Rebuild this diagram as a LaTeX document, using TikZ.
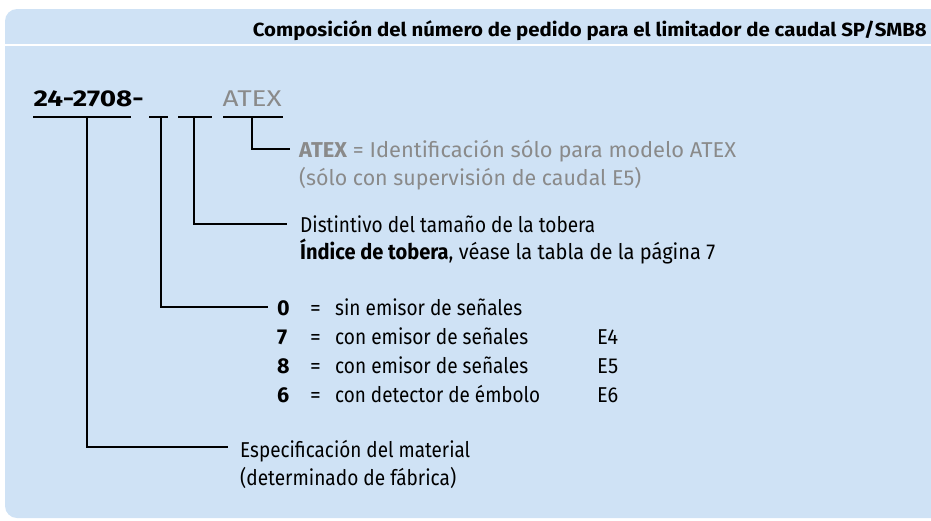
\documentclass[tikz,border=0pt]{standalone}
\usepackage{graphicx}
\usepackage{fontspec}
\setmainfont{Fira Sans}
\definecolor{panel}{RGB}{207,226,245}
\definecolor{atexgray}{RGB}{138,138,138}
\newsavebox\fitbox
\newcommand\fitw[2]{\sbox\fitbox{#2}\pgfmathsetmacro\fitr{#1/\the\wd\fitbox}\scalebox{\fitr}[1]{\usebox\fitbox}}
\begin{document}
\begin{tikzpicture}[x=1pt,y=-1pt,
  txt/.style={anchor=base west, inner sep=0pt, font=\fontsize{21.5}{24}\selectfont},
  grytxt/.style={txt, text=atexgray},
  keytxt/.style={txt, font=\fontsize{21.5}{24}\selectfont\bfseries},
  conn/.style={line width=1.9pt, black},
  uline/.style={line width=1.9pt, black}]
\useasboundingbox (0,0) rectangle (931,520);
% panel
\fill[panel, rounded corners=12pt] (5,9) rectangle (960,518);
\fill[white] (0,43.6) rectangle (960,46.4);
% title
\node[anchor=base east, inner sep=0pt, font=\fontsize{19}{21}\selectfont\bfseries] (title) at (927,36) {\fitw{674}{Composición del número de pedido para el limitador de caudal SP/SMB8}};
% order code
\node[anchor=base west, inner sep=0pt, font=\fontsize{22.8}{26}\selectfont\bfseries] (code) at (33.5,106.7) {\fitw{110}{24-2708-}};
\node[anchor=base west, inner sep=0pt, font=\fontsize{22.8}{26}\selectfont, text=atexgray] (atexcode) at (222.5,106.7) {\fitw{59}{ATEX}};
% underline segments
\coordinate (u1a) at (33,116.7);  \coordinate (u1b) at (131,116.7);
\coordinate (u2a) at (149,116.7); \coordinate (u2b) at (168,116.7);
\coordinate (u3a) at (178,116.7); \coordinate (u3b) at (212,116.7);
\coordinate (u4a) at (223,116.7); \coordinate (u4b) at (283,116.7);
\draw[uline] (u1a) -- (u1b);
\draw[uline] (u2a) -- (u2b);
\draw[uline] (u3a) -- (u3b);
\draw[uline] (u4a) -- (u4b);
% connector start points
\coordinate (v1) at (86.7,116.7);
\coordinate (v2) at (161,116.7);
\coordinate (v3) at (194,116.7);
\coordinate (v4) at (252,116.7);
% connector end points
\coordinate (e1) at (228,446.7);
\coordinate (e2) at (268,306.7);
\coordinate (e3) at (287,224);
\coordinate (e4) at (290,149.3);
\draw[conn] (v1) |- (e1);
\draw[conn] (v2) |- (e2);
\draw[conn] (v3) |- (e3);
\draw[conn] (v4) |- (e4);
% ATEX description
\node[grytxt] (atexA) at (299,157) {\fitw{437}{\textbf{ATEX} = Identificación sólo para modelo ATEX}};
\node[grytxt] (atexB) at (299,185) {\fitw{342}{(sólo con supervisión de caudal E5)}};
% nozzle
\node[txt] (nozA) at (300,232) {\fitw{295}{Distintivo del tamaño de la tobera}};
\node[txt] (nozB) at (300,259) {\fitw{415}{\textbf{Índice de tobera}, véase la tabla de la página 7}};
% list
\node[keytxt] (k0) at (277,315) {0};
\node[keytxt] (k7) at (277,344) {7};
\node[keytxt] (k8) at (277,373) {8};
\node[keytxt] (k6) at (277,402) {6};
\node[txt] (q0) at (310,315) {=};
\node[txt] (q7) at (310,344) {=};
\node[txt] (q8) at (310,373) {=};
\node[txt] (q6) at (310,402) {=};
\node[txt] (d0) at (335,315) {\fitw{187}{sin emisor de señales}};
\node[txt] (d7) at (335,344) {\fitw{193}{con emisor de señales}};
\node[txt] (d8) at (335,373) {\fitw{193}{con emisor de señales}};
\node[txt] (d6) at (335,402) {\fitw{205}{con detector de émbolo}};
\node[txt] (c7) at (597,344) {\fitw{21}{E4}};
\node[txt] (c8) at (597,373) {\fitw{21}{E5}};
\node[txt] (c6) at (597,402) {\fitw{21}{E6}};
% material
\node[txt] (matA) at (240,457) {\fitw{230}{Especificación del material}};
\node[txt] (matB) at (240,485) {\fitw{216}{(determinado de fábrica)}};
\end{tikzpicture}
\end{document}
